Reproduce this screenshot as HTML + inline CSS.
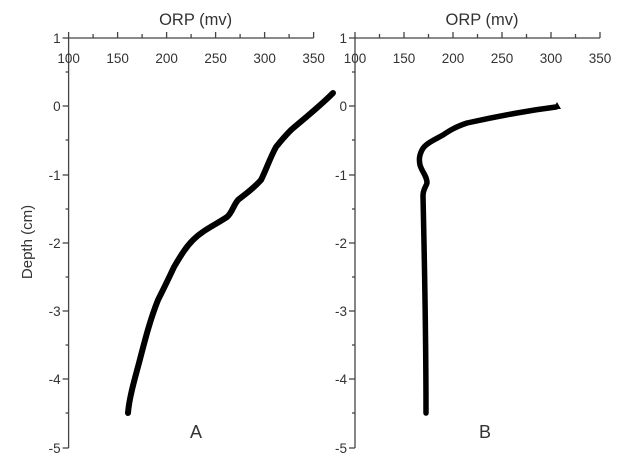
<!DOCTYPE html>
<html><head><style>body{margin:0;background:#fff}</style></head><body>
<svg width="638" height="471" viewBox="0 0 638 471" xmlns="http://www.w3.org/2000/svg" font-family="Liberation Sans, sans-serif" fill="#333">
<defs>
<g id="ax">
<line x1="0" y1="38" x2="245" y2="38" stroke="#444" stroke-width="1.3"/>
<line x1="0" y1="38" x2="0" y2="448" stroke="#444" stroke-width="1.3"/>
<g stroke="#444" stroke-width="1.3">
<line x1="0" y1="38" x2="0" y2="32"/><line x1="24.5" y1="38" x2="24.5" y2="34"/>
<line x1="49" y1="38" x2="49" y2="32"/><line x1="73.5" y1="38" x2="73.5" y2="34"/>
<line x1="98" y1="38" x2="98" y2="32"/><line x1="122.5" y1="38" x2="122.5" y2="34"/>
<line x1="147" y1="38" x2="147" y2="32"/><line x1="171.5" y1="38" x2="171.5" y2="34"/>
<line x1="196" y1="38" x2="196" y2="32"/><line x1="220.5" y1="38" x2="220.5" y2="34"/>
<line x1="245" y1="38" x2="245" y2="32"/>
<line x1="0" y1="38" x2="-6" y2="38"/><line x1="0" y1="72" x2="-3" y2="72"/>
<line x1="0" y1="106" x2="-6" y2="106"/><line x1="0" y1="140" x2="-3" y2="140"/>
<line x1="0" y1="175" x2="-6" y2="175"/><line x1="0" y1="209" x2="-3" y2="209"/>
<line x1="0" y1="243" x2="-6" y2="243"/><line x1="0" y1="277" x2="-3" y2="277"/>
<line x1="0" y1="311" x2="-6" y2="311"/><line x1="0" y1="345" x2="-3" y2="345"/>
<line x1="0" y1="379" x2="-6" y2="379"/><line x1="0" y1="413" x2="-3" y2="413"/>
<line x1="0" y1="448" x2="-6" y2="448"/>
</g>
<g font-size="13.5" text-anchor="middle">
<text x="0" y="63">100</text><text x="49" y="63">150</text><text x="98" y="63">200</text>
<text x="147" y="63">250</text><text x="196" y="63">300</text><text x="245" y="63">350</text>
</g>
<g font-size="13.5" text-anchor="end">
<text x="-8" y="43">1</text><text x="-8" y="111">0</text><text x="-8" y="180">-1</text>
<text x="-8" y="248">-2</text><text x="-8" y="316">-3</text><text x="-8" y="384">-4</text>
<text x="-8" y="453">-5</text>
</g>
<text x="127" y="25" font-size="16.5" text-anchor="middle">ORP (mv)</text>
</g>
</defs>
<use href="#ax" x="68.6"/>
<use href="#ax" x="355"/>
<text transform="translate(32,242) rotate(-90)" font-size="15" text-anchor="middle">Depth (cm)</text>
<text x="196" y="438" font-size="18" text-anchor="middle">A</text>
<text x="485" y="438" font-size="18" text-anchor="middle">B</text>
<path d="M333,93 C318,108 300,122 291,130 C284,137 280,142 276,147 C270,158 266,170 261,180 C252,190 244,195 238,200 C233,206 232,213 227,217 C215,225 203,230 193,240 C185,248 180,257 174,267 C168,280 163,290 158,300 C150,320 145,340 139,363 C133,385 129,400 128,413" fill="none" stroke="#000" stroke-width="6" stroke-linecap="round" stroke-linejoin="round"/>
<path d="M556,107 C540,109 528,111 517,113 C500,116 485,119 467,123 C455,127 449,131 443,135 C432,141 425,144 422,150 C419,156 419,160 420,165 C422,172 427,176 427,183 C426,187 423,189 423,196 C424,240 426,350 426,413" fill="none" stroke="#000" stroke-width="5.5" stroke-linecap="round" stroke-linejoin="round"/>
<polygon points="557,102 553,109 561,109" fill="#000"/>
</svg>
</body></html>
